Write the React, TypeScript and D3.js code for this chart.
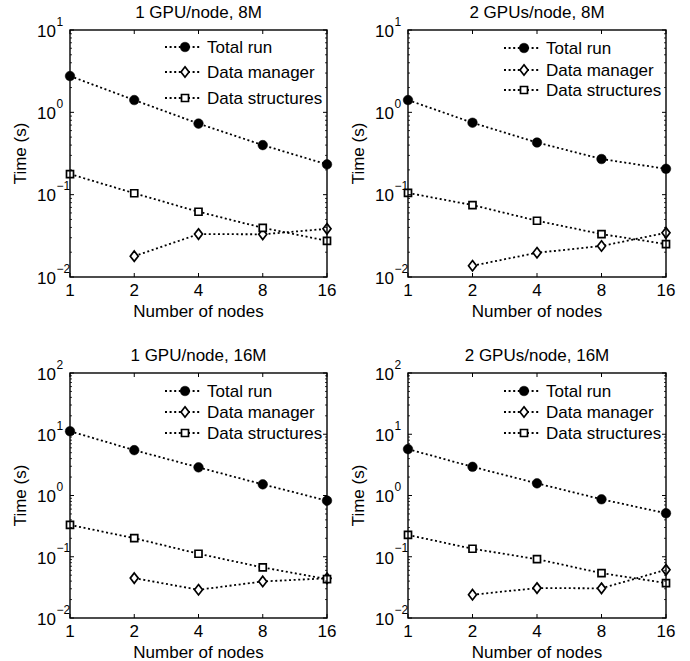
import React from 'react';
import * as d3 from 'd3';

// node counts on the x axis
const nodes = [1, 2, 4, 8, 16];
const seriesNames = ['Total run', 'Data manager', 'Data structures'];
const titles = ['1 GPU/node, 8M', '2 GPUs/node, 8M', '1 GPU/node, 16M', '2 GPUs/node, 16M'];

// times in seconds (no data manager value at 1 node)
const total8M1 = [2.76, 1.41, 0.73, 0.4, 0.233];
const manager8M1 = [null, 0.0179, 0.0332, 0.033, 0.0385];
const structs8M1 = [0.178, 0.104, 0.062, 0.0396, 0.0275];

const total8M2 = [1.41, 0.748, 0.43, 0.271, 0.206];
const manager8M2 = [null, 0.0137, 0.0197, 0.0238, 0.0344];
const structs8M2 = [0.105, 0.0748, 0.0482, 0.0332, 0.0251];

const total16M1 = [11.2, 5.5, 2.88, 1.52, 0.824];
const manager16M1 = [null, 0.0448, 0.0289, 0.0395, 0.0445];
const structs16M1 = [0.331, 0.201, 0.112, 0.0669, 0.0432];

const total16M2 = [5.72, 2.94, 1.58, 0.867, 0.513];
const manager16M2 = [null, 0.024, 0.0308, 0.0305, 0.0612];
const structs16M2 = [0.227, 0.135, 0.0914, 0.054, 0.0372];

const yTop8M = 10;
const yTop16M = 100;
const yBottom = 0.01;

const FONT = '"Liberation Sans", Arial, Helvetica, sans-serif';

const panels = [
    { title: titles[0], series: [total8M1, manager8M1, structs8M1], yMax: yTop8M, box: { l: 70, r: 327, t: 30, b: 277 }, legendRows: [17, 42, 68] },
    { title: titles[1], series: [total8M2, manager8M2, structs8M2], yMax: yTop8M, box: { l: 408, r: 666, t: 30, b: 277 }, legendRows: [18, 40, 60] },
    { title: titles[2], series: [total16M1, manager16M1, structs16M1], yMax: yTop16M, box: { l: 70, r: 327, t: 373, b: 618 }, legendRows: [18, 39, 60] },
    { title: titles[3], series: [total16M2, manager16M2, structs16M2], yMax: yTop16M, box: { l: 408, r: 666, t: 373, b: 618 }, legendRows: [18, 39, 60] },
];

const circlePath = d3.symbol().type(d3.symbolCircle).size(Math.PI * 4.8 * 4.8)();
const squarePath = d3.symbol().type(d3.symbolSquare).size(49)();
const diamondPath = 'M0,-5.2L4,0L0,5.2L-4,0Z';

function Marker({ kind, x, y }) {
    if (kind === 0) {
        return <path d={circlePath} transform={`translate(${x},${y})`} fill="#000" stroke="#000" strokeWidth={0.5} />;
    }
    const d = kind === 1 ? diamondPath : squarePath;
    return <path d={d} transform={`translate(${x},${y})`} fill="#fff" stroke="#000" strokeWidth={1.7} />;
}

function expLabel(v) {
    const e = Math.round(Math.log10(v));
    return e < 0 ? '\u2212' + Math.abs(e) : String(e);
}

function Panel({ panel }) {
    const { l, r, t, b } = panel.box;
    const x = d3.scaleLog().base(2).domain([1, 16]).range([l, r]);
    const y = d3.scaleLog().domain([yBottom, panel.yMax]).range([b, t]);
    const line = d3.line()
        .defined(d => d[1] != null)
        .x(d => x(d[0]))
        .y(d => y(d[1]));

    const majors = y.ticks().filter(v => Math.abs(Math.log10(v) - Math.round(Math.log10(v))) < 1e-9);
    const minors = y.ticks().filter(v => !majors.includes(v));

    return (
        <g>
            <text x={(l + r) / 2} y={t - 12} textAnchor="middle" fontSize={17} fontFamily={FONT}>{panel.title}</text>

            {/* series */}
            {panel.series.map((vals, si) => {
                const pts = nodes.map((n, i) => [n, vals[i]]);
                return (
                    <g key={si}>
                        <path d={line(pts)} fill="none" stroke="#000" strokeWidth={1.8} strokeDasharray="2 2.6" />
                        {pts.filter(p => p[1] != null).map((p, i) => (
                            <Marker key={i} kind={si} x={x(p[0])} y={y(p[1])} />
                        ))}
                    </g>
                );
            })}

            {/* frame */}
            <rect x={l} y={t} width={r - l} height={b - t} fill="none" stroke="#000" strokeWidth={1.4} />

            {/* y ticks */}
            {majors.map(v => (
                <g key={'M' + v}>
                    <line x1={l} x2={l + 4} y1={y(v)} y2={y(v)} stroke="#000" />
                    <line x1={r} x2={r - 4} y1={y(v)} y2={y(v)} stroke="#000" />
                    <text x={l - 14} y={y(v)} dy="0.4em" textAnchor="end" fontSize={17} fontFamily={FONT}>10</text>
                    <text x={l - 13.5} y={y(v) - 4.5} fontSize={12} fontFamily={FONT}>{expLabel(v)}</text>
                </g>
            ))}
            {minors.map(v => (
                <g key={'m' + v}>
                    <line x1={l} x2={l + 2} y1={y(v)} y2={y(v)} stroke="#000" strokeWidth={0.8} />
                    <line x1={r} x2={r - 2} y1={y(v)} y2={y(v)} stroke="#000" strokeWidth={0.8} />
                </g>
            ))}

            {/* x ticks */}
            {nodes.map(n => (
                <g key={'x' + n}>
                    <line x1={x(n)} x2={x(n)} y1={b} y2={b - 4} stroke="#000" />
                    <line x1={x(n)} x2={x(n)} y1={t} y2={t + 4} stroke="#000" />
                    <text x={x(n)} y={b + 19} textAnchor="middle" fontSize={17} fontFamily={FONT}>{n}</text>
                </g>
            ))}

            <text x={(l + r) / 2} y={b + 40} textAnchor="middle" fontSize={17} fontFamily={FONT}>Number of nodes</text>
            <text transform={`translate(${l - 44},${(t + b) / 2}) rotate(-90)`} textAnchor="middle" fontSize={17} fontFamily={FONT}>Time (s)</text>

            {/* legend */}
            {seriesNames.map((name, si) => {
                const ly = t + panel.legendRows[si];
                return (
                    <g key={name}>
                        <line x1={r - 162} x2={r - 127} y1={ly} y2={ly} stroke="#000" strokeWidth={1.8} strokeDasharray="2 2.6" />
                        <Marker kind={si} x={r - 142} y={ly} />
                        <text x={r - 120} y={ly} dy="0.36em" fontSize={17} fontFamily={FONT}>{name}</text>
                    </g>
                );
            })}
        </g>
    );
}

export default function App() {
    return (
        <svg width={690} height={661} style={{ position: 'absolute', left: 0, top: 0, background: '#fff' }}>
            <rect width={690} height={661} fill="#fff" />
            {panels.map((p, i) => <Panel key={i} panel={p} />)}
        </svg>
    );
}
